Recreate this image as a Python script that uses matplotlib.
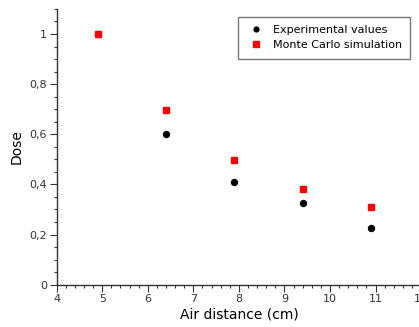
import matplotlib
matplotlib.use('Agg')
from matplotlib import pyplot as plt, ticker as tick

# air distance (cm) and normalised dose
distance = [4.9, 6.4, 7.9, 9.4, 10.9]
dose_exp = [1.0, 0.602, 0.408, 0.326, 0.225]
dose_mc = [1.0, 0.697, 0.497, 0.383, 0.311]

plt.rcParams['font.family'] = 'DejaVu Sans'

fig = plt.figure(figsize=(4.19, 3.27), dpi=100)
ax = fig.add_axes([0.1353, 0.1294, 0.8697, 0.8434])

ax.plot(distance, dose_exp, 'o', color='black', markersize=4.3, label='Experimental values')
ax.plot(distance, dose_mc, 's', color='#ff0000', markersize=5, label='Monte Carlo simulation')

ax.set_xlim(4, 12)
ax.set_ylim(0, 1.1)
ax.xaxis.set_major_locator(tick.MultipleLocator(1))
ax.xaxis.set_minor_locator(tick.MultipleLocator(0.2))
ax.yaxis.set_major_locator(tick.MultipleLocator(0.2))
ax.yaxis.set_minor_locator(tick.MultipleLocator(0.05))
ax.yaxis.set_major_formatter(tick.FuncFormatter(lambda v, p: ('%g' % round(v, 2)).replace('.', ',')))

ax.spines['top'].set_visible(False)
ax.spines['right'].set_visible(False)
for s in ['left', 'bottom']:
    ax.spines[s].set_color('#333333')
    ax.spines[s].set_linewidth(1)
ax.tick_params(which='major', length=5, width=0.8, color='#333333', labelsize=8, labelcolor='#333333', pad=2)
ax.tick_params(which='minor', length=2.5, width=0.8, color='#333333')

ax.set_xlabel('Air distance (cm)', fontsize=10, labelpad=2)
ax.set_ylabel('Dose', fontsize=10, labelpad=4)

leg = fig.legend(loc='upper right', bbox_to_anchor=(410 / 419, 1 - 17 / 327), fontsize=8,
                 fancybox=False, edgecolor='#777777', framealpha=1, handletextpad=0.6,
                 borderpad=0.75, labelspacing=0.45, handlelength=1.8, markerscale=0.8,
                 borderaxespad=0)
leg.get_frame().set_linewidth(1)

fig.savefig('out.png', dpi=100)
